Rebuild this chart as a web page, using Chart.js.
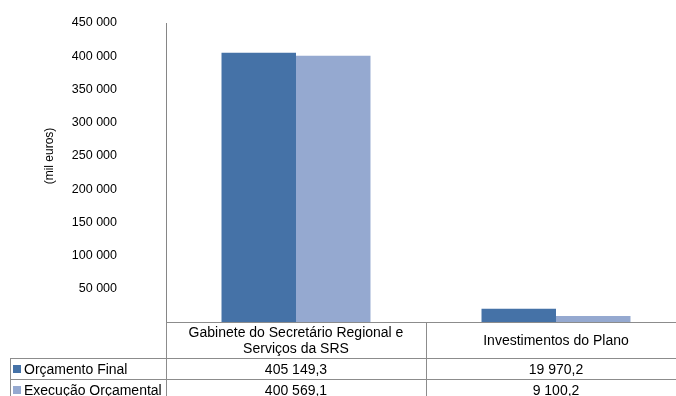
<!DOCTYPE html>
<html>
<head>
<meta charset="utf-8">
<script src="https://cdn.jsdelivr.net/npm/chart.js@4"></script>
<style>
  html, body { margin: 0; padding: 0; background: #fff; overflow: hidden; }
</style>
</head>
<body>
<canvas id="despesaChart" width="686" height="396"></canvas>
<script>
// Despesa por unidade orgânica (mil euros)
const categorias = [
  ['Gabinete do Secretário Regional e', 'Serviços da SRS'],
  ['Investimentos do Plano']
];
const series = ['Orçamento Final', 'Execução Orçamental'];
const orcamentoFinal = [405149.3, 19970.2];
const execucaoOrcamental = [400569.1, 9100.2];
const cores = ['#4572a7', '#95a9d0'];
const yTicks = [50000, 100000, 150000, 200000, 250000, 300000, 350000, 400000, 450000];

const FONT = "'Liberation Sans', Arial, sans-serif";
const LINE = '#8c8c8c';

function fmtMilhares(v) {
  return String(v).replace(/\B(?=(\d{3})+(?!\d))/g, ' ');
}

function fmtValor(v) {
  const partes = v.toFixed(1).split('.');
  return fmtMilhares(partes[0]) + ',' + partes[1];
}

// tabela de dados por baixo do eixo x + título do eixo y
const tabelaDados = {
  id: 'tabelaDados',
  afterDraw(chart) {
    const ctx = chart.ctx;
    const x = chart.scales.x;
    const area = chart.chartArea;
    const W = chart.width;
    const top = area.bottom;
    const rowHead = top + 36;
    const row1 = rowHead + 21;
    const bottom = chart.height;
    const leftEdge = 10;

    ctx.save();
    ctx.strokeStyle = LINE;
    ctx.lineWidth = 1;
    ctx.beginPath();
    // linhas horizontais
    ctx.moveTo(area.left, top + 0.5); ctx.lineTo(W, top + 0.5);
    ctx.moveTo(leftEdge, rowHead + 0.5); ctx.lineTo(W, rowHead + 0.5);
    ctx.moveTo(leftEdge, row1 + 0.5); ctx.lineTo(W, row1 + 0.5);
    // linhas verticais
    ctx.moveTo(leftEdge + 0.5, rowHead); ctx.lineTo(leftEdge + 0.5, bottom);
    ctx.moveTo(area.left + 0.5, top); ctx.lineTo(area.left + 0.5, bottom);
    for (let i = 1; i < categorias.length; i++) {
      const xd = Math.round((x.getPixelForValue(i - 1) + x.getPixelForValue(i)) / 2) + 0.5;
      ctx.moveTo(xd, top); ctx.lineTo(xd, bottom);
    }
    ctx.stroke();

    ctx.fillStyle = '#000';
    ctx.font = '14px ' + FONT;
    ctx.textAlign = 'center';
    ctx.textBaseline = 'middle';

    // cabeçalho com as categorias
    categorias.forEach((linhas, i) => {
      const cx = x.getPixelForValue(i);
      const midY = (top + rowHead) / 2 + 1;
      const lh = 16;
      linhas.forEach((t, k) => {
        ctx.fillText(t, cx, midY + (k - (linhas.length - 1) / 2) * lh);
      });
    });

    // linhas de valores
    const dados = [orcamentoFinal, execucaoOrcamental];
    const rowTops = [rowHead, row1];
    dados.forEach((valores, s) => {
      const cy = rowTops[s] + 11;
      ctx.fillStyle = cores[s];
      ctx.fillRect(leftEdge + 3, cy - 4, 8, 8);
      ctx.fillStyle = '#000';
      ctx.textAlign = 'left';
      ctx.fillText(series[s], leftEdge + 14, cy + 1);
      ctx.textAlign = 'center';
      valores.forEach((v, i) => {
        ctx.fillText(fmtValor(v), x.getPixelForValue(i), cy + 1);
      });
    });

    // título do eixo y
    ctx.translate(50, 156);
    ctx.rotate(-Math.PI / 2);
    ctx.font = '12px ' + FONT;
    ctx.fillText('(mil euros)', 0, 0);
    ctx.restore();
  }
};

new Chart(document.getElementById('despesaChart'), {
  type: 'bar',
  data: {
    labels: categorias,
    datasets: [
      {
        label: series[0],
        data: orcamentoFinal,
        backgroundColor: cores[0],
        borderWidth: 0
      },
      {
        label: series[1],
        data: execucaoOrcamental,
        backgroundColor: cores[1],
        borderWidth: 0
      }
    ]
  },
  options: {
    responsive: false,
    animation: false,
    categoryPercentage: 0.573,
    barPercentage: 1,
    layout: {
      padding: { top: 23, left: 0, right: 0, bottom: 0 }
    },
    scales: {
      x: {
        grid: { display: false },
        ticks: { display: false },
        border: { display: false },
        afterFit: function(scale) {
          scale.height = 74;
        }
      },
      y: {
        min: 0,
        max: 450000,
        afterFit: function(scale) {
          scale.width = 166;
        },
        afterBuildTicks: function(scale) {
          scale.ticks = yTicks.map(v => ({ value: v }));
        },
        // marcas invisíveis de 49px só para afastar os rótulos do eixo
        grid: { display: false, drawTicks: true, tickLength: 49 },
        border: { display: true, color: '#868686', width: 1 },
        ticks: {
          padding: 0,
          color: '#000',
          font: { family: FONT, size: 12.5 },
          callback: function(value) {
            return fmtMilhares(value);
          }
        }
      }
    },
    plugins: {
      legend: { display: false },
      tooltip: { enabled: false }
    }
  },
  plugins: [tabelaDados]
});
</script>
</body>
</html>
